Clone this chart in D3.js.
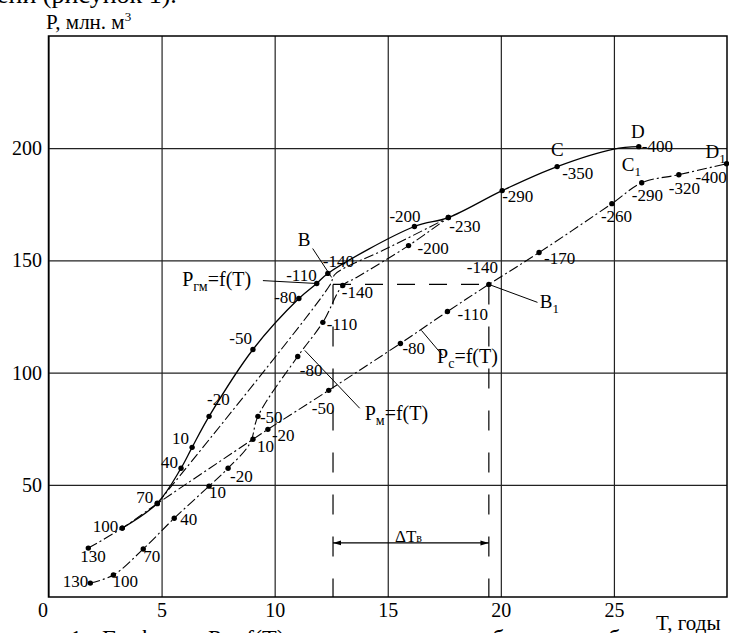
<!DOCTYPE html>
<html><head><meta charset="utf-8">
<script src="https://cdn.jsdelivr.net/npm/d3@7"></script>
<style>
html,body{margin:0;padding:0;background:#fff;overflow:hidden}
svg{display:block;font-family:"Liberation Serif","Times New Roman",serif}
</style></head>
<body>
<svg id="c" width="729" height="633"></svg>
<script>
// ---------- data ----------
const xTicks = [0, 5, 10, 15, 20, 25];
const yTicks = [50, 100, 150, 200];

// upper solid curve (Pгм)
const gmT = [3.26, 4.81, 5.86, 6.35, 7.10, 9.04, 11.07, 11.86, 12.35, 16.18, 17.68, 20.06, 22.49, 25.0, 26.10];
const gmP = [30.7, 41.8, 57.4, 66.7, 80.5, 110.3, 133.0, 139.7, 144.2, 165.1, 169.1, 181.1, 191.8, 199.6, 200.7];
const gmLab = ["100","70","40","10","-20","-50","-80","-110","-140","-200","-230","-290","-350",null,"-400"];

// middle dash-dot curve (Pм)
const mT = [1.85, 2.87, 4.19, 5.56, 7.10, 7.94, 8.91, 9.26, 11.02, 12.13, 13.01, 13.62, 15.92, 17.68];
const mP = [6.2, 9.8, 21.4, 35.1, 49.4, 57.4, 68.5, 80.5, 107.2, 122.4, 138.8, 142.4, 156.6, 169.1];
const mLab = ["130","100","70","40","10","-20",null,"-50","-80","-110","-140",null,"-200",""];

// lower-right dash-dot curve (Pс)
const cT = [1.76, 3.26, 4.81, 9.04, 9.70, 12.39, 15.56, 17.64, 19.47, 21.69, 24.91, 26.23, 27.87, 29.98];
const cP = [21.8, 30.7, 41.6, 70.3, 74.7, 92.1, 113.0, 127.2, 139.3, 153.5, 175.3, 184.6, 188.2, 193.1];
const cLab = ["130","","","10","-20","-50","-80","-110","-140","-170","-260","-290","-320","-400"];

// dash-dot line A -> B (no markers)
const sT = [4.81, 12.43, 12.65, 13.10, 14.77, 17.68];
const sP = [41.6, 138.8, 143.6, 146.7, 154.4, 169.1];

// B / B1 construction
const bT = 12.58, b1T = 19.47, bP = 139.3, dTP = 24.1;

// ---------- layout (label offsets: dx, dy, anchor) ----------
const gmOff = [[-4,4,"end"],[-4,0,"end"],[-3,0,"end"],[-3,-3,"end"],[-2,-11,"start"],[-1,-5,"end"],[-2,4,"end"],[0,-3,"end"],[-5,-6,"start"],[-25,-5,"start"],[1,14,"start"],[0,11,"start"],[5,12,"start"],null,[3,5,"start"]];
const mOff = [[-2,4,"end"],[-1,12,"start"],[0,13,"start"],[6,7,"start"],[0,12,"start"],[2,14,"start"],null,[2,7,"start"],[2,20,"start"],[4,8,"start"],[-1,12,"start"],null,[9,8,"start"],null];
const cOff = [[-8,14,"start"],null,null,[4,13,"start"],[4,12,"start"],[-17,24,"start"],[2,11,"start"],[10,8,"start"],[-22,-11,"start"],[5,11,"start"],[-11,18,"start"],[-10,18,"start"],[-10,19,"start"],[-31,19,"start"]];

const svg = d3.select("#c");
const x = d3.scaleLinear().domain([0, 30]).range([48.5, 727]);
const y = d3.scaleLinear().domain([0, 250]).range([597, 36]);
const H = 597 - 36, W = 727 - 48.5;

// top/bottom document text (cropped in the reference)
svg.append("text").attr("x", -3).attr("y", 3).attr("font-size", 26).text("ени (рисунок 1).");
const cap = svg.append("text").attr("y", 646).attr("font-size", 24);
cap.append("tspan").attr("x", 70).text("1 - Графики");
cap.append("tspan").attr("x", 208).text("P = f(T) при нагнетании");
cap.append("tspan").attr("x", 480).text("обменного");
cap.append("tspan").attr("x", 596).text("объ-");

// grid via axes
const gx = svg.append("g").attr("transform", "translate(0,597)")
  .call(d3.axisBottom(x).tickValues(xTicks).tickSize(-H).tickPadding(6).tickFormat(d3.format("d")));
const gy = svg.append("g").attr("transform", "translate(48.5,0)")
  .call(d3.axisLeft(y).tickValues(yTicks).tickSize(-W).tickPadding(6.5).tickFormat(d3.format("d")));
[gx, gy].forEach(g => {
  g.select(".domain").remove();
  g.selectAll("line").attr("stroke", "#222").attr("stroke-width", 1.2);
  g.selectAll("text").attr("font-size", 20).attr("fill", "#000")
    .attr("font-family", "'Liberation Serif','Times New Roman',serif");
});
gx.selectAll(".tick").filter(d => d === 0).select("text").attr("dx", -6);

svg.append("rect").attr("x", 48.5).attr("y", 36).attr("width", W).attr("height", H)
  .attr("fill", "none").attr("stroke", "#000").attr("stroke-width", 1.5);

// axis titles
const yt = svg.append("text").attr("x", 46).attr("y", 29).attr("font-size", 21);
yt.append("tspan").text("P, млн. м");
yt.append("tspan").attr("font-size", 13).attr("dy", -8).text("3");
svg.append("text").attr("x", 656).attr("y", 630).attr("font-size", 21).text("T, годы");

// dashed construction lines
const dashed = "20,22";
function seg(t1, p1, t2, p2, dash, w) {
  svg.append("line").attr("x1", x(t1)).attr("y1", y(p1)).attr("x2", x(t2)).attr("y2", y(p2))
    .attr("stroke", "#000").attr("stroke-width", w || 1.2).attr("stroke-dasharray", dash || null);
}
seg(bT, bP, b1T, bP, "18,14");
seg(bT, bP, bT, 0, dashed);
seg(b1T, bP, b1T, 0, dashed);

// ΔT arrow
const defs = svg.append("defs");
defs.append("marker").attr("id", "ar").attr("viewBox", "0 0 10 10").attr("refX", 10).attr("refY", 5)
  .attr("markerWidth", 7).attr("markerHeight", 7).attr("orient", "auto-start-reverse")
  .append("path").attr("d", "M0,2 L10,5 L0,8 Z").attr("fill", "#000");
svg.append("line").attr("x1", x(bT)).attr("x2", x(b1T)).attr("y1", y(dTP)).attr("y2", y(dTP))
  .attr("stroke", "#000").attr("stroke-width", 1.2)
  .attr("marker-start", "url(#ar)").attr("marker-end", "url(#ar)");

// curves
const line = d3.line().x(d => x(d.T)).y(d => y(d.P)).curve(d3.curveCatmullRom.alpha(0.5));
const zip = (T, P, L) => T.map((t, i) => ({T: t, P: P[i], L: L ? L[i] : null}));
const dashDot = "10,3,2,3";
const gm = zip(gmT, gmP, gmLab), m = zip(mT, mP, mLab), c = zip(cT, cP, cLab), s = zip(sT, sP);

svg.append("path").datum(c).attr("d", line).attr("fill", "none").attr("stroke", "#000").attr("stroke-width", 1.1).attr("stroke-dasharray", dashDot);
svg.append("path").datum(m).attr("d", line).attr("fill", "none").attr("stroke", "#000").attr("stroke-width", 1.1).attr("stroke-dasharray", dashDot);
svg.append("path").datum(s).attr("d", line).attr("fill", "none").attr("stroke", "#000").attr("stroke-width", 1.1).attr("stroke-dasharray", dashDot);
svg.append("path").datum(gm).attr("d", line).attr("fill", "none").attr("stroke", "#000").attr("stroke-width", 1.3);

function marks(data, off) {
  data.forEach((d, i) => {
    if (d.L === null) return;
    svg.append("circle").attr("cx", x(d.T)).attr("cy", y(d.P)).attr("r", 2.7).attr("fill", "#000");
    if (d.L && off[i]) {
      svg.append("text").attr("x", x(d.T) + off[i][0]).attr("y", y(d.P) + off[i][1])
        .attr("text-anchor", off[i][2]).attr("font-size", 17).text(d.L);
    }
  });
}
marks(c, cOff); marks(m, mOff); marks(gm, gmOff);

// annotation labels
function lab(t, p, main, sub, size, subSize, after) {
  const tx = svg.append("text").attr("x", x(t)).attr("y", y(p)).attr("font-size", size);
  tx.append("tspan").text(main);
  if (sub) tx.append("tspan").attr("font-size", subSize).attr("dy", 5).text(sub);
  if (after) tx.append("tspan").attr("dy", -5).text(after);
}
lab(11.02, 156.6, "B", null, 19);
lab(22.22, 196.7, "C", null, 19);
lab(25.75, 204.7, "D", null, 19);
lab(25.35, 190.0, "C", "1", 19, 13);
lab(29.05, 195.8, "D", "1", 19, 13);
lab(21.72, 128.6, "B", "1", 19, 13);
lab(5.91, 138.8, "P", "гм", 20, 14, "=f(T)");
lab(13.98, 78.8, "P", "м", 20, 14, "=f(T)");
lab(17.18, 104.1, "P", "с", 20, 14, "=f(T)");
const dt = svg.append("text").attr("x", x(15.32)).attr("y", y(dTP) - 1).attr("font-size", 17);
dt.append("tspan").text("ΔT");
dt.append("tspan").attr("font-size", 12).text("в");

// pointer lines
seg(9.48, 141.0, 11.86, 139.7, null, 1);
seg(11.33, 109.9, 13.76, 84.1, null, 1);
seg(16.49, 118.8, 17.42, 107.7, null, 1);
seg(11.68, 155.3, 12.52, 142.4, null, 1);
seg(b1T, bP, 21.62, 131.3, null, 1);
</script>
</body></html>
